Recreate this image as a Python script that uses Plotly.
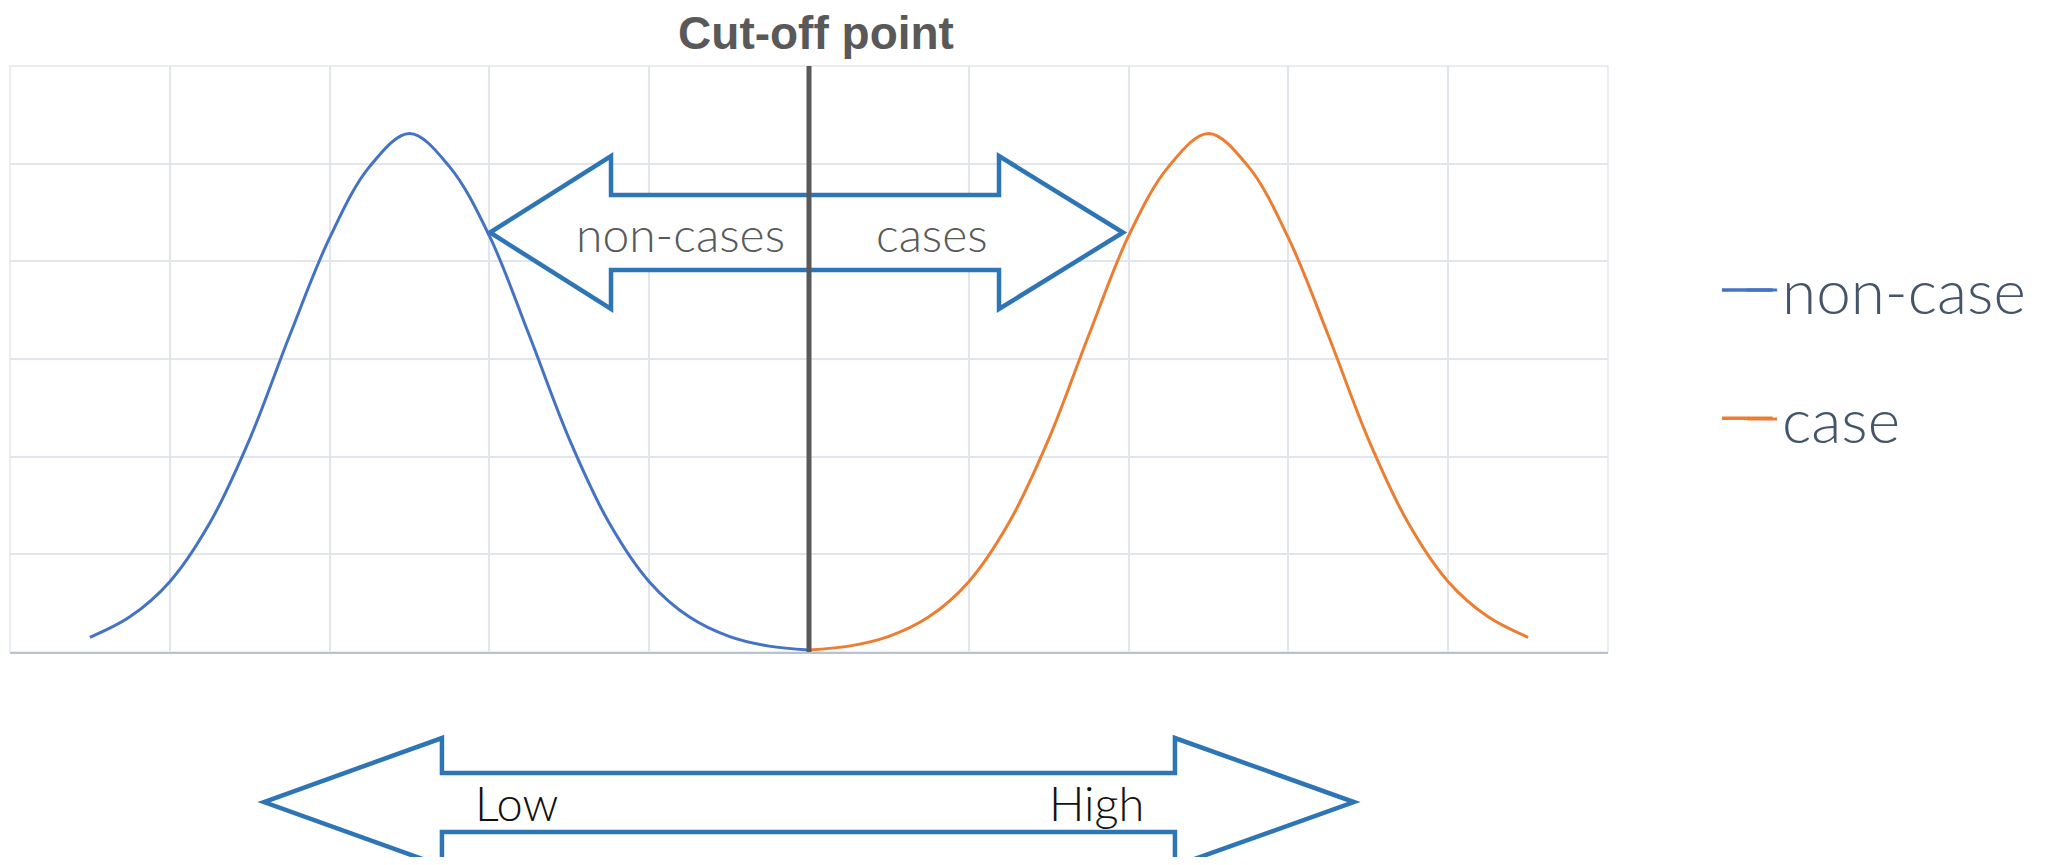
import plotly.graph_objects as go

# ---- data ----
noncase_x = [0.5, 0.75, 1.0, 1.25, 1.5, 1.75, 2.0, 2.25, 2.5, 2.75, 3.0,
             3.25, 3.5, 3.75, 4.0, 4.25, 4.5, 4.75, 5.0]
noncase_y = [0.15, 0.36, 0.72, 1.32, 2.18, 3.24, 4.24, 4.97, 5.31, 4.97, 4.26,
             3.24, 2.18, 1.32, 0.72, 0.36, 0.16, 0.06, 0.02]
case_x = [5.0, 5.25, 5.5, 5.75, 6.0, 6.25, 6.5, 6.75, 7.0, 7.25, 7.5,
          7.75, 8.0, 8.25, 8.5, 8.75, 9.0, 9.25, 9.5]
case_y = [0.02, 0.06, 0.16, 0.36, 0.72, 1.32, 2.18, 3.24, 4.26, 4.97, 5.31,
          4.97, 4.24, 3.24, 2.18, 1.32, 0.72, 0.36, 0.15]
cutoff_x = [5.0, 5.0]
cutoff_y = [0.0, 6.0]
series_names = ["non-case", "case"]
series_colors = ["#4472C4", "#ED7D31"]
top_arrow_labels = ["non-cases", "cases"]
bottom_arrow_labels = ["Low", "High"]
title_text = "Cut-off point"

# ---- styling ----
ARROW = "#2E75B6"
GRID = "#E2E6EC"
LIGHT = dict(family="Lato, 'Open Sans', sans-serif", weight=300)

# the page body adds an 8px margin, so the figure is drawn 16px smaller
FIG_W, FIG_H = 2029, 849

fig = go.Figure()
fig.add_trace(go.Scatter(x=noncase_x, y=noncase_y, mode="lines", name=series_names[0],
                         line=dict(color=series_colors[0], width=3, shape="spline", smoothing=1.0),
                         legendgroup="a"))
fig.add_trace(go.Scatter(x=case_x, y=case_y, mode="lines", name=series_names[1],
                         line=dict(color=series_colors[1], width=3, shape="spline", smoothing=1.0),
                         legendgroup="b"))
fig.add_trace(go.Scatter(x=cutoff_x, y=cutoff_y, mode="lines", showlegend=False,
                         line=dict(color="#595959", width=5)))

# plot frame in gridline colour
fig.add_shape(type="rect", xref="paper", yref="paper", x0=0, x1=1, y0=0, y1=1,
              line=dict(color=GRID, width=1.5), layer="below")

# longer legend keys (extend plotly's short legend line to the left)
for yk, col in zip([0.6177, 0.3990], series_colors):
    fig.add_shape(type="line", xref="paper", yref="paper", x0=1.0713, x1=1.1030,
                  y0=yk, y1=yk, line=dict(color=col, width=3.5))

# double arrow inside the plot (data coordinates)
top_arrow = ("M 3.004,4.295 L 3.761,5.078 L 3.761,4.679 L 6.189,4.679 L 6.189,5.078 "
             "L 6.965,4.295 L 6.189,3.512 L 6.189,3.911 L 3.761,3.911 L 3.761,3.512 Z")
fig.add_shape(type="path", path=top_arrow, xref="x", yref="y",
              line=dict(color=ARROW, width=4.5), fillcolor="white", layer="between")

# double arrow below the plot (paper coordinates)
bottom_arrow = ("M 0.1589,-0.2560 L 0.2703,-0.1468 L 0.2703,-0.2065 L 0.7290,-0.2065 "
                "L 0.7290,-0.1468 L 0.8410,-0.2560 L 0.7290,-0.3652 L 0.7290,-0.3072 "
                "L 0.2703,-0.3072 L 0.2703,-0.3652 Z")
fig.add_shape(type="path", path=bottom_arrow, xref="paper", yref="paper",
              line=dict(color=ARROW, width=4.5), fillcolor="white", layer="above")

fig.add_annotation(x=4.193, y=4.28, xref="x", yref="y", text=top_arrow_labels[0],
                   showarrow=False, xanchor="center", yanchor="middle",
                   font=dict(size=48, color="#595959", **LIGHT))
fig.add_annotation(x=5.767, y=4.28, xref="x", yref="y", text=top_arrow_labels[1],
                   showarrow=False, xanchor="center", yanchor="middle",
                   font=dict(size=48, color="#595959", **LIGHT))
fig.add_annotation(x=0.3167, y=-0.258, xref="paper", yref="paper", text=bottom_arrow_labels[0],
                   showarrow=False, xanchor="center", yanchor="middle",
                   font=dict(size=47, color="#111111", **LIGHT))
fig.add_annotation(x=0.6796, y=-0.258, xref="paper", yref="paper", text=bottom_arrow_labels[1],
                   showarrow=False, xanchor="center", yanchor="middle",
                   font=dict(size=47, color="#111111", **LIGHT))

fig.update_layout(
    width=FIG_W, height=FIG_H,
    margin=dict(l=2, r=429, t=58, b=205),
    paper_bgcolor="white", plot_bgcolor="white",
    title=dict(text=title_text, x=(816 - 10) / 1598, xref="paper", xanchor="center",
               y=1 - 25 / FIG_H, yref="container", yanchor="middle",
               font=dict(family="'Liberation Sans', Arial, sans-serif", size=46,
                         color="#595959", weight="bold")),
    showlegend=True,
    legend=dict(x=1.0839, xanchor="left", y=0.6976, yanchor="top",
                traceorder="grouped", tracegroupgap=45.5,
                font=dict(size=62, color="#44546A", **LIGHT),
                bgcolor="rgba(0,0,0,0)"),
    xaxis=dict(range=[0, 10], dtick=1, tick0=0, showticklabels=False, ticks="",
               showgrid=True, gridcolor=GRID, gridwidth=1.5, zeroline=False,
               showline=True, linecolor="#B8C2D2", linewidth=2, fixedrange=True),
    yaxis=dict(range=[0, 6], dtick=1, tick0=0, showticklabels=False, ticks="",
               showgrid=True, gridcolor=GRID, gridwidth=1.5, zeroline=False,
               showline=False, fixedrange=True),
)

fig.write_html("out.html")
